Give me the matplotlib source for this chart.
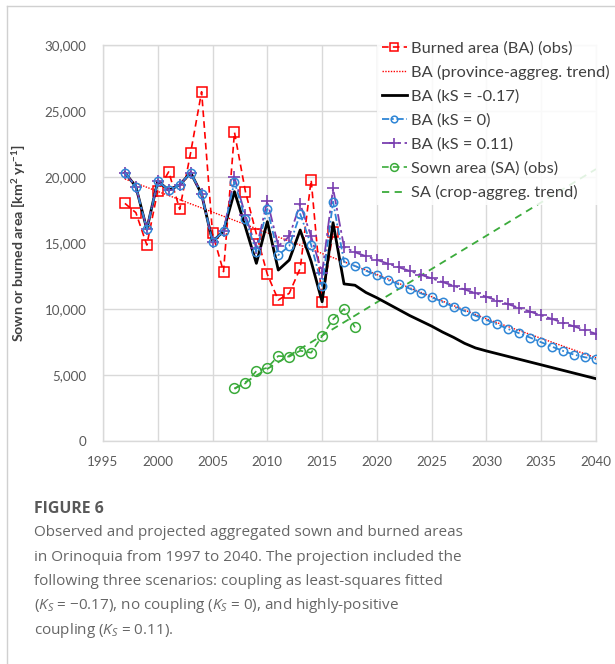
import matplotlib
matplotlib.use("Agg")
import matplotlib.pyplot as plt
from matplotlib.lines import Line2D

# ---- data (km2 per year) ----
obs_years = list(range(1997, 2017))
ba_obs = [18000, 17300, 14850, 18960, 20400, 17550, 21840, 26460, 15730, 12830,
          23390, 18890, 15680, 12630, 10680, 11190, 13080, 19770, 10550, 15860]

trend_years = [1997, 2019, 2030, 2040]
ba_trend = [19850, 12950, 9250, 6300]

model_years = list(range(1997, 2041))
ba_k_neg = [20330, 19270, 16040, 19700, 19000, 19400, 20330, 18700, 15100, 15900,
            18890, 16200, 13460, 16620, 12950, 13710, 15980, 13600, 10550, 16540,
            11900, 11800, 11250, 10850, 10400, 9950, 9500, 9100, 8700, 8250,
            7850, 7400, 7050, 6820, 6610, 6400, 6190, 5980, 5770, 5560,
            5350, 5140, 4930, 4720]
ba_k_zero = [20330, 19270, 16040, 19700, 19000, 19400, 20330, 18700, 15100, 15900,
             19650, 16790, 14340, 17580, 14090, 14770, 17200, 14850, 11740, 18130,
             13580, 13260, 12900, 12550, 12200, 11870, 11540, 11190, 10890, 10530,
             10170, 9850, 9490, 9170, 8840, 8480, 8160, 7830, 7480, 7140,
             6820, 6540, 6340, 6210]
ba_k_pos = [20330, 19270, 16040, 19700, 19000, 19400, 20330, 18700, 15100, 15900,
            19970, 17100, 14600, 18180, 14770, 15500, 17950, 15500, 12700, 19140,
            14700, 14300, 14000, 13720, 13440, 13160, 12880, 12600, 12320, 12040,
            11760, 11480, 11200, 10920, 10640, 10360, 10080, 9800, 9520, 9240,
            8960, 8680, 8400, 8120]

sa_years = list(range(2007, 2019))
sa_obs = [3990, 4370, 5300, 5550, 6440, 6390, 6840, 6690, 7950, 9220, 10000, 8610]

sa_trend_years = [2007, 2040]
sa_trend = [3950, 20600]

x_ticks = list(range(1995, 2041, 5))
y_ticks = list(range(0, 30001, 5000))

# ---- styling ----
FONT = ["Lato", "DejaVu Sans"]
plt.rcParams["font.family"] = FONT
plt.rcParams["mathtext.fontset"] = "custom"
plt.rcParams["mathtext.rm"] = "Open Sans"
plt.rcParams["mathtext.it"] = "Open Sans:italic"
plt.rcParams["mathtext.bf"] = "Lato:bold"

RED = "#ff0000"
BLUE = "#2f86d6"
PURPLE = "#7a3fb0"
GREEN = "#3bab3b"
GRID = "#d9d9d9"
TICK = "#595959"

fig = plt.figure(figsize=(6.15, 6.64), dpi=100)
ax = fig.add_axes([103 / 615, 1 - 441 / 664, 493 / 615, 396 / 664])

ax.plot(obs_years, ba_obs, color=RED, lw=1.2, ls=(0, (4, 2.5)), marker="s",
        ms=7, mfc="none", mec=RED, mew=1.1, label="Burned area (BA) (obs)", zorder=4)
ax.plot(trend_years, ba_trend, color=RED, lw=1.0, ls=(0, (1, 1)),
        label="BA (province-aggreg. trend)", zorder=3)
ax.plot(model_years, ba_k_neg, color="black", lw=2.0, ls="-",
        label="BA (kS = -0.17)", zorder=5)
ax.plot(model_years, ba_k_zero, color=BLUE, lw=1.3, ls=(0, (4, 1.5, 1, 1.5)),
        marker="o", ms=6, mfc="none", mec=BLUE, mew=1.1,
        label="BA (kS = 0)", zorder=6)
ax.plot(model_years, ba_k_pos, color=PURPLE, lw=1.3, ls=(0, (7, 2, 1.5, 2)),
        marker="+", ms=9, mew=1.2, label="BA (kS = 0.11)", zorder=5)
ax.plot(sa_years, sa_obs, color=GREEN, lw=1.2, ls=(0, (4, 2.5)), marker="o",
        ms=7, mfc="none", mec=GREEN, mew=1.1, label="Sown area (SA) (obs)", zorder=4)
ax.plot(sa_trend_years, sa_trend, color=GREEN, lw=1.3, ls=(0, (4, 3)),
        label="SA (crop-aggreg. trend)", zorder=3)

ax.set_xlim(1995, 2040)
ax.set_ylim(0, 30000)
ax.set_xticks(x_ticks)
ax.set_yticks(y_ticks)
ax.set_yticklabels([f"{v:,}" for v in y_ticks])
ax.grid(True, color=GRID, lw=1.0)
ax.set_axisbelow(True)
for sp in ax.spines.values():
    sp.set_color(GRID)
    sp.set_linewidth(1.0)
ax.tick_params(length=0, labelsize=9.6, colors=TICK)
ax.tick_params(axis="y", pad=12)
ax.tick_params(axis="x", pad=11)

ax.set_ylabel("Sown or burned area [km$^{\\mathbf{2}}$ yr$^{\\mathbf{-1}}$]",
              fontsize=10.2, fontweight="bold", color="#404040")
ax.yaxis.set_label_coords((28 - 103) / 493, 0.5)

leg = ax.legend(loc="upper left", bbox_to_anchor=(377 / 615, 1 - 36 / 664),
                bbox_transform=fig.transFigure, borderaxespad=0, fontsize=11.8,
                frameon=True, framealpha=0.85, facecolor="white", edgecolor="none",
                fancybox=False, handlelength=1.5, handletextpad=0.25,
                labelspacing=0.58, borderpad=0.3, markerscale=0.8)
for t in leg.get_texts():
    t.set_color("#404040")

# ---- caption ----
CAP = ["Open Sans", "DejaVu Sans"]
fig.text(34 / 615, 1 - 509 / 664, "FIGURE 6", fontsize=11.4, fontweight="bold",
         color="#595959", family=CAP, va="center", ha="left")
caption_lines = [
    "Observed and projected aggregated sown and burned areas",
    "in Orinoquia from 1997 to 2040. The projection included the",
    "following three scenarios: coupling as least-squares fitted",
    "($K_S$ = \u22120.17), no coupling ($K_S$ = 0), and highly-positive",
    "coupling ($K_S$ = 0.11).",
]
for i, line in enumerate(caption_lines):
    fig.text(34 / 615, 1 - (533 + 24.3 * i) / 664, line, fontsize=11.0,
             color="#666666", family=CAP, va="center", ha="left")

# thin panel border (left and top)
fig.add_artist(Line2D([7 / 615, 7 / 615], [0, 1 - 6 / 664], transform=fig.transFigure,
                      color="#d0d0d0", lw=1.0))
fig.add_artist(Line2D([7 / 615, 1], [1 - 6 / 664, 1 - 6 / 664], transform=fig.transFigure,
                      color="#d0d0d0", lw=1.0))

fig.savefig("out.png", dpi=100)
